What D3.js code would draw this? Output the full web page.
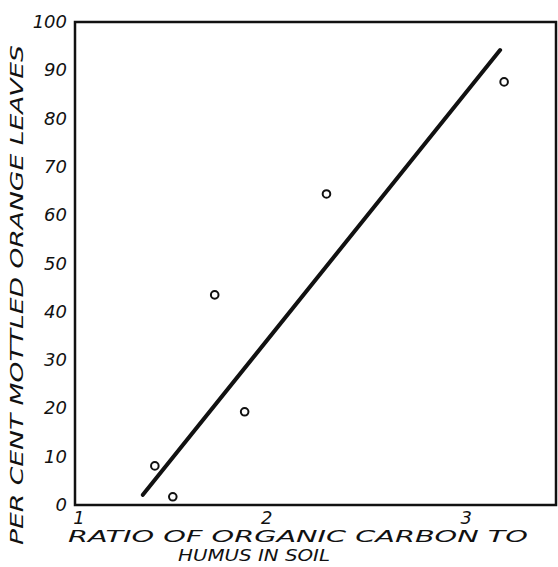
<!DOCTYPE html>
<html lang="en">
<head>
  <meta charset="UTF-8" />
  <script src="https://d3js.org/d3.v7.min.js"></script>
  <title>Mottled orange leaves vs organic carbon ratio</title>
  <style>
    body { margin: 0; background: #fff; }
    text { font-family: "DejaVu Sans", sans-serif; font-style: italic; fill: #111; }
  </style>
</head>
<body>
  <svg width="558" height="567"></svg>

  <script>
    const width = 558;
    const height = 567;

    // observed points (ratio, per cent mottled)
    const ratios = [1.44, 1.53, 1.74, 1.89, 2.30, 3.19];
    const mottled = [8.1, 1.7, 43.5, 19.3, 64.4, 87.6];

    // fitted line end points
    const lineRatios = [1.38, 3.17];
    const lineMottled = [2.1, 94.2];

    const xTicks = [1, 2, 3];
    const yTicks = [0, 10, 20, 30, 40, 50, 60, 70, 80, 90, 100];

    const x = d3.scaleLinear().domain([1.04, 3.45]).range([75, 556]);
    const y = d3.scaleLinear().domain([0, 100]).range([505, 22]);

    const svg = d3.select("svg");

    // frame
    svg.append("rect")
      .attr("x", x.range()[0])
      .attr("y", y.range()[1])
      .attr("width", x.range()[1] - x.range()[0])
      .attr("height", y.range()[0] - y.range()[1])
      .attr("fill", "none")
      .attr("stroke", "#111")
      .attr("stroke-width", 2.5);

    // y tick labels
    svg.selectAll(".ylab")
      .data(yTicks)
      .enter()
      .append("text")
      .attr("class", "ylab")
      .attr("x", 67)
      .attr("y", d => y(d) + 6)
      .attr("text-anchor", "end")
      .attr("font-size", 18)
      .text(d => d);

    // x tick labels
    svg.selectAll(".xlab")
      .data(xTicks)
      .enter()
      .append("text")
      .attr("class", "xlab")
      .attr("x", d => Math.max(x(d), x.range()[0] + 4))
      .attr("y", 524)
      .attr("text-anchor", "middle")
      .attr("font-size", 18)
      .text(d => d);

    // fitted line
    svg.append("line")
      .attr("x1", x(lineRatios[0]))
      .attr("y1", y(lineMottled[0]))
      .attr("x2", x(lineRatios[1]))
      .attr("y2", y(lineMottled[1]))
      .attr("stroke", "#111")
      .attr("stroke-width", 4)
      .attr("stroke-linecap", "round");

    // points
    const pts = ratios.map((r, i) => ({ r: r, m: mottled[i] }));
    svg.selectAll(".pt")
      .data(pts)
      .enter()
      .append("circle")
      .attr("class", "pt")
      .attr("cx", d => x(d.r))
      .attr("cy", d => y(d.m))
      .attr("r", 3.8)
      .attr("fill", "#fff")
      .attr("stroke", "#111")
      .attr("stroke-width", 2);

    // axis titles
    svg.append("text")
      .attr("transform", "translate(23, 295) rotate(-90)")
      .attr("text-anchor", "middle")
      .attr("font-size", 17)
      .attr("textLength", 500)
      .attr("lengthAdjust", "spacingAndGlyphs")
      .text("PER CENT MOTTLED ORANGE LEAVES");

    svg.append("text")
      .attr("x", 298)
      .attr("y", 542)
      .attr("text-anchor", "middle")
      .attr("font-size", 16)
      .attr("textLength", 460)
      .attr("lengthAdjust", "spacingAndGlyphs")
      .text("RATIO OF ORGANIC CARBON TO");

    svg.append("text")
      .attr("x", 254)
      .attr("y", 561)
      .attr("text-anchor", "middle")
      .attr("font-size", 16)
      .attr("textLength", 152)
      .attr("lengthAdjust", "spacingAndGlyphs")
      .text("HUMUS IN SOIL");
  </script>
</body>
</html>
